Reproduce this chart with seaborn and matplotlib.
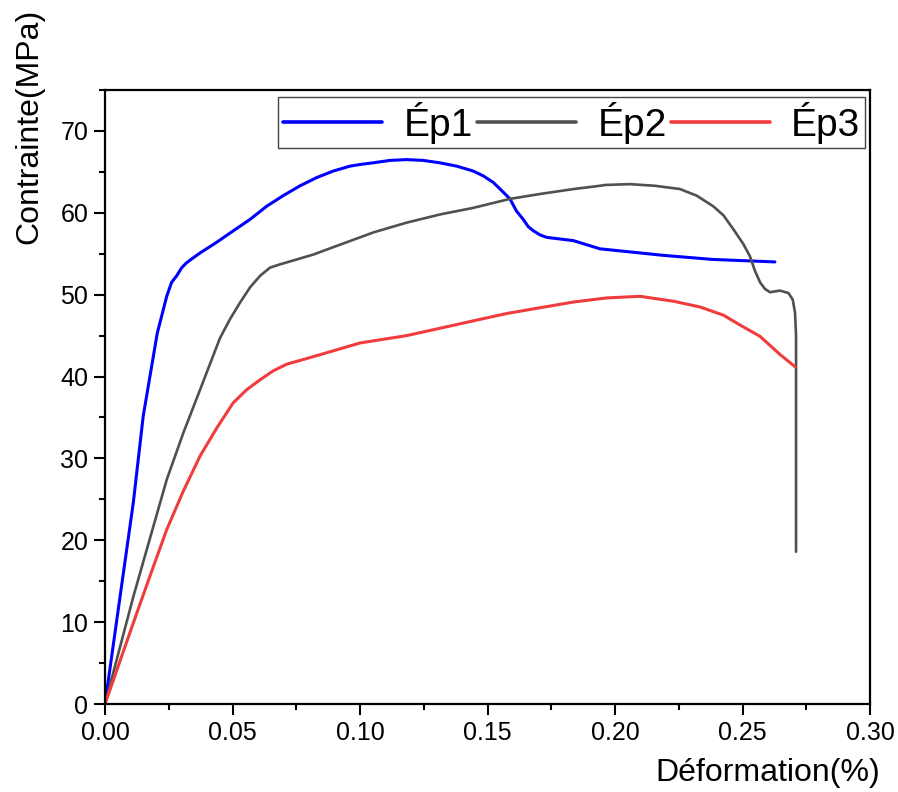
import numpy as np
import pandas as pd
import matplotlib
matplotlib.use("Agg")
import matplotlib.pyplot as plt
from matplotlib.ticker import MultipleLocator, FormatStrFormatter
import seaborn as sns

# ---- data ----
strain_ep1 = [0, 0.0059, 0.0111, 0.015, 0.0205, 0.0242, 0.0261, 0.0281, 0.0301, 0.032,
              0.0346, 0.0373, 0.0438, 0.0503, 0.0569, 0.0634, 0.0699, 0.0765, 0.083,
              0.0895, 0.0961, 0.1, 0.105, 0.1118, 0.1183, 0.1248, 0.1314, 0.1379,
              0.1444, 0.1484, 0.1523, 0.1556, 0.1588, 0.1614, 0.164, 0.166, 0.168,
              0.1706, 0.1732, 0.1837, 0.1941, 0.219, 0.2385, 0.2627]
stress_ep1 = [0, 13.1, 24.6, 35.2, 45.3, 49.8, 51.5, 52.3, 53.3, 53.9,
              54.5, 55.1, 56.4, 57.8, 59.2, 60.8, 62.1, 63.3, 64.3,
              65.1, 65.7, 65.9, 66.1, 66.4, 66.5, 66.4, 66.1, 65.7,
              65.1, 64.5, 63.7, 62.7, 61.7, 60.2, 59.2, 58.3, 57.8,
              57.3, 57.0, 56.6, 55.6, 54.8, 54.3, 54.0]

strain_ep2 = [0, 0.0111, 0.0242, 0.0307, 0.0373, 0.0451, 0.049, 0.0529, 0.0569,
              0.0608, 0.0647, 0.0686, 0.0752, 0.0817, 0.0895, 0.1, 0.1052, 0.1183,
              0.1314, 0.1444, 0.1588, 0.1706, 0.1837, 0.1941, 0.1961, 0.2059, 0.2157,
              0.2255, 0.232, 0.2385, 0.2425, 0.2464, 0.2503, 0.2529, 0.2549, 0.2569,
              0.2588, 0.2608, 0.2647, 0.268, 0.2697, 0.2706, 0.271, 0.271]
stress_ep2 = [0, 13.1, 27.4, 33.1, 38.4, 44.7, 47.0, 49.0, 50.9,
              52.3, 53.3, 53.7, 54.3, 54.9, 55.8, 57.0, 57.6, 58.8,
              59.8, 60.6, 61.7, 62.3, 62.9, 63.3, 63.4, 63.5, 63.3,
              62.9, 62.1, 60.8, 59.7, 58.0, 56.2, 54.7, 52.9, 51.5,
              50.7, 50.3, 50.5, 50.2, 49.4, 47.8, 45.0, 18.6]

strain_ep3 = [0, 0.0111, 0.0176, 0.0242, 0.0307, 0.0373, 0.0438, 0.0503, 0.0556,
              0.0608, 0.066, 0.0712, 0.0791, 0.0869, 0.1, 0.1183, 0.1314, 0.1444,
              0.1575, 0.1706, 0.1837, 0.1967, 0.2098, 0.2229, 0.2333, 0.2425, 0.249,
              0.2569, 0.2647, 0.2706]
stress_ep3 = [0, 9.9, 15.6, 21.3, 26.0, 30.3, 33.7, 36.8, 38.4,
              39.6, 40.7, 41.5, 42.2, 42.9, 44.1, 45.0, 45.9, 46.8,
              47.7, 48.4, 49.1, 49.6, 49.8, 49.2, 48.5, 47.5, 46.3,
              44.9, 42.7, 41.2]

series_names = ["Ép1", "Ép2", "Ép3"]
series_colors = ["#0000ff", "#505050", "#f03c3c"]
series_widths = [2.2, 1.9, 2.2]

x_ticks = [0.00, 0.05, 0.10, 0.15, 0.20, 0.25, 0.30]
y_ticks = [0, 10, 20, 30, 40, 50, 60, 70]

# ---- build long-form table ----
frames = []
for name, xs, ys in zip(series_names,
                        [strain_ep1, strain_ep2, strain_ep3],
                        [stress_ep1, stress_ep2, stress_ep3]):
    frames.append(pd.DataFrame({"strain": xs, "stress": ys, "serie": name}))
df = pd.concat(frames, ignore_index=True)

sns.set_style("ticks")
plt.rcParams["font.family"] = ["Liberation Sans", "DejaVu Sans"]
plt.rcParams["text.color"] = "black"
plt.rcParams["axes.labelcolor"] = "black"
plt.rcParams["xtick.color"] = "black"
plt.rcParams["ytick.color"] = "black"

fig = plt.figure(figsize=(8.98, 7.92), dpi=100)
ax = fig.add_axes([105 / 898, 1 - 704 / 792, 765 / 898, 614 / 792])

for name, col, lw in zip(series_names, series_colors, series_widths):
    sub = df[df["serie"] == name]
    sns.lineplot(data=sub, x="strain", y="stress", color=col, linewidth=lw,
                 sort=False, estimator=None, ax=ax, label=name)

ax.set_xlim(0, 0.30)
ax.set_ylim(0, 75)
ax.set_xticks(x_ticks)
ax.set_yticks(y_ticks)
ax.xaxis.set_minor_locator(MultipleLocator(0.025))
ax.yaxis.set_minor_locator(MultipleLocator(5))
ax.xaxis.set_major_formatter(FormatStrFormatter("%.2f"))
ax.yaxis.set_major_formatter(FormatStrFormatter("%d"))

ax.tick_params(axis="both", which="major", direction="out", length=8, width=1.5,
               labelsize=18, color="black", labelcolor="black", pad=4)
ax.tick_params(axis="both", which="minor", direction="out", length=4.5, width=1.5,
               color="black")
ax.tick_params(top=False, right=False)
for sp in ax.spines.values():
    sp.set_visible(True)
    sp.set_linewidth(1.6)
    sp.set_color("black")

ax.set_xlabel("Déformation(%)", fontsize=23, ha="right", va="center", color="black")
ax.xaxis.set_label_coords((880 - 105) / 765, (704 - 773) / 614)
ax.set_ylabel("Contrainte(MPa)", fontsize=23, ha="right", va="center", color="black")
ax.yaxis.set_label_coords((29 - 105) / 765, (704 - 9) / 614)

leg = ax.legend(loc="upper right", bbox_to_anchor=((865 - 105) / 765, (704 - 97) / 614),
                ncol=3, fontsize=28, frameon=True, fancybox=False, framealpha=1,
                edgecolor="#444444", borderaxespad=0, borderpad=0.12,
                handlelength=2.55, handletextpad=0.55, columnspacing=0.1)
leg.get_frame().set_linewidth(1.0)
for line in leg.get_lines():
    line.set_linewidth(2.6)
for t in leg.get_texts():
    t.set_color("black")

fig.savefig("out.png", dpi=100, facecolor="white")
